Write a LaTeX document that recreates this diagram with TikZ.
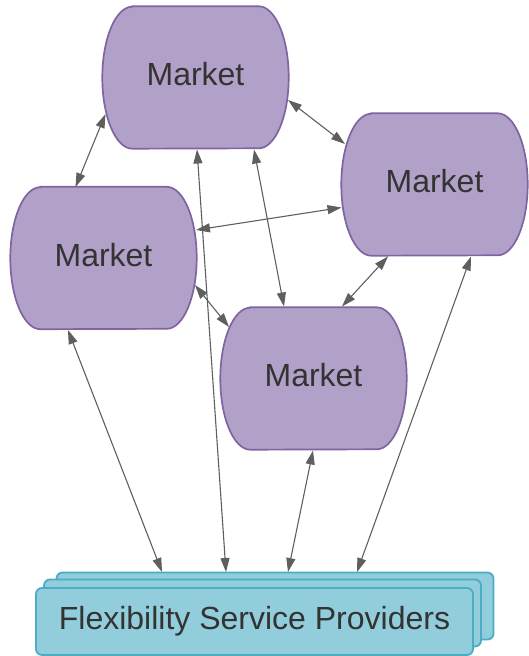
\documentclass[tikz,border=0pt]{standalone}
\usepackage{fontspec}
\setmainfont{Liberation Sans}
\usetikzlibrary{arrows.meta,calc,backgrounds}
\definecolor{mktfill}{HTML}{B1A0C7}
\definecolor{mktdraw}{HTML}{8064A2}
\definecolor{fspfill}{HTML}{92CDDC}
\definecolor{fspdraw}{HTML}{4BACC6}
\definecolor{txt}{HTML}{333333}
\definecolor{arr}{HTML}{5F5F5F}
\newcommand{\mktshape}[1]{%
  \draw[mktline] ($(#1.north west)+(30,0)$) -- ($(#1.north east)+(-30,0)$)
    arc[start angle=90,end angle=-90,x radius=30,y radius=71]
    -- ($(#1.south west)+(30,0)$)
    arc[start angle=270,end angle=90,x radius=30,y radius=71] -- cycle;}
\begin{document}
\begin{tikzpicture}[x=1pt,y=1pt,
  mkt/.style={minimum width=186pt,minimum height=142pt,inner sep=0pt,
    text depth=7pt,text=txt,font=\fontsize{32}{38}\selectfont},
  mktline/.style={fill=mktfill,draw=mktdraw,line width=1.7pt},
  fspbox/.style={rectangle,rounded corners=6pt,fill=fspfill,draw=fspdraw,
    line width=1.8pt,minimum width=437pt,minimum height=67pt,inner sep=0pt,
    text=txt,font=\fontsize{32}{38}\selectfont},
  link/.style={draw=arr,line width=1.1pt,
    {Triangle[length=14pt,width=9pt]}-{Triangle[length=14pt,width=9pt]}}]
\useasboundingbox (0,0) rectangle (528,-656);
% markets
\node[mkt] (m1) at (195.5,-77.5) {Market};
\node[mkt] (m2) at (434.5,-184.5) {Market};
\node[mkt] (m3) at (103.5,-258) {Market};
\node[mkt] (m4) at (313.5,-378.5) {Market};
\begin{scope}[on background layer]
  \mktshape{m1}\mktshape{m2}\mktshape{m3}\mktshape{m4}
\end{scope}
% flexibility service providers stack
\node[fspbox] (fspback) at (275,-606) {};
\node[fspbox] (fspmid) at (262.5,-613) {};
\node[fspbox] (fsp) at (254.5,-621.5) {Flexibility Service Providers};
% connectors
\draw[link] ($(m1)+(-90,-36.5)$) -- ($(m3)+(-28,71)$);
\draw[link] ($(m1)+(92.5,-22.5)$) -- ($(m2)+(-89.5,40.5)$);
\draw[link] ($(m2)+(-93,-23)$) -- ($(m3)+(92.5,28)$);
\draw[link] ($(m1)+(58.5,-72)$) -- ($(m4)+(-29.5,72)$);
\draw[link] ($(m3)+(91.5,-27)$) -- ($(m4)+(-84.5,51.5)$);
\draw[link] ($(m2)+(-46.5,-72)$) -- ($(m4)+(28.5,72)$);
\draw[link] ($(m3)+(-35.5,-72)$) -- ($(fspback)+(-113,34)$);
\draw[link] ($(m1)+(1.5,-72)$) -- ($(fspback)+(-49,34)$);
\draw[link] ($(m4)+(-0.5,-72)$) -- ($(fspback)+(13,34)$);
\draw[link] ($(m2)+(36.5,-72)$) -- ($(fspback)+(82,34)$);
\end{tikzpicture}
\end{document}
